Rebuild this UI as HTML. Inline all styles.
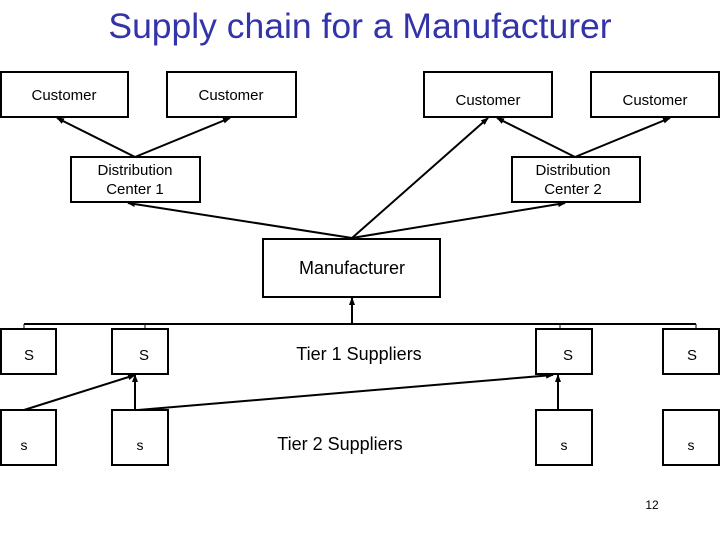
<!DOCTYPE html>
<html><head><style>
body{margin:0;background:#fff;}
svg{display:block;}
text{font-family:"Liberation Sans",sans-serif;}
</style></head><body>
<svg width="720" height="540" xmlns="http://www.w3.org/2000/svg">
<defs><marker id="a" markerWidth="8" markerHeight="8" refX="7" refY="4" orient="auto" markerUnits="userSpaceOnUse"><path d="M0,1 L8,4 L0,7 z" fill="#000"/></marker></defs>
<text x="360" y="38" font-size="35.5" fill="#3333aa" text-anchor="middle">Supply chain for a Manufacturer</text>
<g fill="#fff" stroke="#000" stroke-width="2">
<rect x="1" y="72" width="127" height="45"/>
<rect x="167" y="72" width="129" height="45"/>
<rect x="424" y="72" width="128" height="45"/>
<rect x="591" y="72" width="128" height="45"/>
<rect x="71" y="157" width="129" height="45"/>
<rect x="512" y="157" width="128" height="45"/>
<rect x="263" y="239" width="177" height="58"/>
<rect x="1" y="329" width="55" height="45"/>
<rect x="112" y="329" width="56" height="45"/>
<rect x="536" y="329" width="56" height="45"/>
<rect x="663" y="329" width="56" height="45"/>
<rect x="1" y="410" width="55" height="55"/>
<rect x="112" y="410" width="56" height="55"/>
<rect x="536" y="410" width="56" height="55"/>
<rect x="663" y="410" width="56" height="55"/>
</g>
<g font-size="15" text-anchor="middle" fill="#000">
<text x="64" y="100">Customer</text>
<text x="231" y="100">Customer</text>
<text x="488" y="105">Customer</text>
<text x="655" y="105">Customer</text>
<text x="135" y="175">Distribution</text>
<text x="135" y="194">Center 1</text>
<text x="573" y="175">Distribution</text>
<text x="573" y="194">Center 2</text>
<text x="352" y="274" font-size="18">Manufacturer</text>
<text x="29" y="360">S</text><text x="144" y="360">S</text><text x="568" y="360">S</text><text x="692" y="360">S</text>
<text x="24" y="450" font-size="14">s</text><text x="140" y="450" font-size="14">s</text><text x="564" y="450" font-size="14">s</text><text x="691" y="450" font-size="14">s</text>
<text x="359" y="360" font-size="18">Tier 1 Suppliers</text>
<text x="340" y="450" font-size="18">Tier 2 Suppliers</text>
<text x="652" y="509" font-size="12" font-family="Liberation Serif">12</text>
</g>
<g stroke="#000" stroke-width="2" fill="none">
<line x1="135" y1="157" x2="57" y2="118" marker-end="url(#a)"/>
<line x1="135" y1="157" x2="230" y2="118" marker-end="url(#a)"/>
<line x1="575" y1="157" x2="497" y2="118" marker-end="url(#a)"/>
<line x1="575" y1="157" x2="670" y2="118" marker-end="url(#a)"/>
<line x1="352" y1="238" x2="128" y2="203" marker-end="url(#a)"/>
<line x1="352" y1="238" x2="565" y2="203" marker-end="url(#a)"/>
<line x1="352" y1="238" x2="488" y2="118" marker-end="url(#a)"/>
<line x1="24" y1="324" x2="696" y2="324"/>
<line x1="352" y1="324" x2="352" y2="298" marker-end="url(#a)"/>
<line x1="24" y1="410" x2="135" y2="375" marker-end="url(#a)"/>
<line x1="135" y1="410" x2="135" y2="375" marker-end="url(#a)"/>
<line x1="138" y1="410" x2="553" y2="375" marker-end="url(#a)"/>
<line x1="558" y1="410" x2="558" y2="375" marker-end="url(#a)"/>
</g>
<g stroke="#000" stroke-width="1">
<line x1="24" y1="324" x2="24" y2="329"/>
<line x1="145" y1="324" x2="145" y2="329"/>
<line x1="560" y1="324" x2="560" y2="329"/>
<line x1="696" y1="324" x2="696" y2="329"/>
</g>
</svg>
</body></html>
